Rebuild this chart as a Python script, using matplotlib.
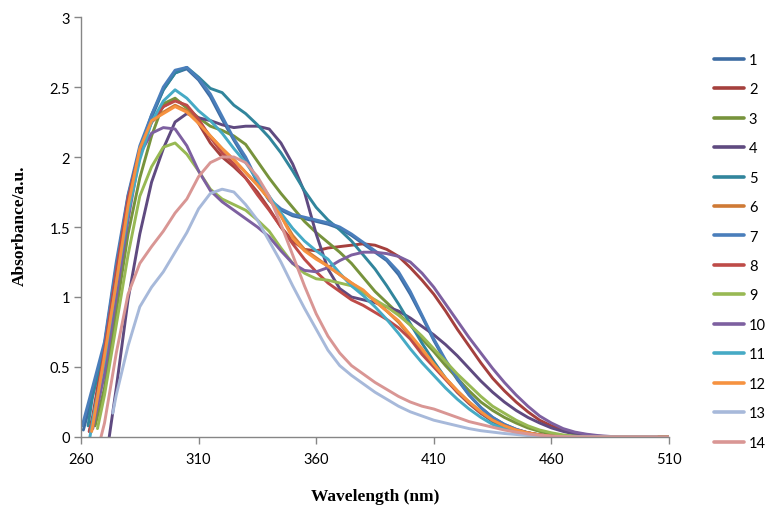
import matplotlib
matplotlib.use("Agg")
import matplotlib.pyplot as plt
import numpy as np

# wavelength grid (nm)
wavelength = list(range(260, 515, 5))

series_names = ["1", "2", "3", "4", "5", "6", "7", "8", "9", "10", "11", "12", "13", "14"]

# onset point of each curve (nm, absorbance)
onset_wl = [261, 263.5, 266, 272, 263, 264.5, 260.5, 263.5, 267, 265, 263.8, 264.5, 273.5, 268.5]
onset_abs = [0.05, 0.04, 0.08, 0.0, 0.08, 0.04, 0.08, 0.04, 0.06, 0.06, 0.0, 0.04, 0.17, 0.0]

# absorbance values on the grid, starting at the first grid point after the onset
s1 = [0.30, 0.66, 1.22, 1.70, 2.06, 2.28, 2.48, 2.60, 2.63, 2.55, 2.43, 2.27, 2.12, 1.98, 1.82, 1.69, 1.62,
      1.58, 1.56, 1.54, 1.52, 1.49, 1.44, 1.38, 1.32, 1.26, 1.16, 1.02, 0.86, 0.69, 0.54, 0.41, 0.30, 0.21,
      0.14, 0.09, 0.055, 0.03, 0.015, 0.006, 0, 0, 0, 0, 0, 0, 0, 0, 0, 0]
s2 = [0.15, 0.65, 1.20, 1.72, 2.05, 2.25, 2.36, 2.41, 2.36, 2.24, 2.10, 2.00, 1.93, 1.85, 1.75, 1.63, 1.50,
      1.40, 1.34, 1.33, 1.35, 1.36, 1.37, 1.38, 1.37, 1.34, 1.29, 1.21, 1.12, 1.02, 0.90, 0.77, 0.65, 0.53,
      0.42, 0.33, 0.25, 0.18, 0.12, 0.08, 0.05, 0.03, 0.015, 0.006, 0, 0, 0, 0, 0, 0]
s3 = [0.35, 0.90, 1.45, 1.85, 2.15, 2.38, 2.42, 2.35, 2.28, 2.22, 2.19, 2.15, 2.09, 1.97, 1.85, 1.74, 1.64,
      1.54, 1.46, 1.39, 1.32, 1.24, 1.14, 1.04, 0.96, 0.88, 0.80, 0.70, 0.61, 0.51, 0.42, 0.33, 0.25, 0.19,
      0.14, 0.10, 0.065, 0.04, 0.02, 0.01, 0.004, 0, 0, 0, 0, 0, 0, 0]
s4 = [0.35, 0.98, 1.45, 1.82, 2.06, 2.25, 2.31, 2.28, 2.26, 2.23, 2.21, 2.22, 2.22, 2.20, 2.10, 1.95, 1.75,
      1.45, 1.20, 1.06, 1.00, 0.98, 0.96, 0.93, 0.90, 0.85, 0.79, 0.73, 0.66, 0.58, 0.49, 0.40, 0.32, 0.25,
      0.19, 0.14, 0.10, 0.065, 0.04, 0.02, 0.01, 0.004, 0, 0, 0, 0, 0]
s5 = [0.30, 0.65, 1.20, 1.70, 2.05, 2.30, 2.48, 2.60, 2.64, 2.57, 2.49, 2.46, 2.37, 2.31, 2.23, 2.14, 2.03,
      1.90, 1.76, 1.64, 1.55, 1.48, 1.40, 1.30, 1.20, 1.08, 0.95, 0.81, 0.67, 0.54, 0.42, 0.32, 0.24, 0.17,
      0.11, 0.07, 0.04, 0.02, 0.01, 0.003, 0, 0, 0, 0, 0, 0, 0, 0, 0, 0]
s6 = [0.10, 0.56, 1.12, 1.66, 2.05, 2.25, 2.32, 2.37, 2.33, 2.25, 2.15, 2.06, 1.98, 1.89, 1.80, 1.70, 1.58,
      1.44, 1.34, 1.28, 1.22, 1.16, 1.10, 1.04, 0.97, 0.90, 0.82, 0.72, 0.62, 0.52, 0.42, 0.33, 0.25, 0.18,
      0.12, 0.08, 0.05, 0.03, 0.015, 0.006, 0, 0, 0, 0, 0, 0, 0, 0, 0, 0]
s7 = [0.36, 0.68, 1.25, 1.73, 2.08, 2.30, 2.50, 2.62, 2.64, 2.56, 2.45, 2.29, 2.13, 2.00, 1.83, 1.70, 1.63,
      1.59, 1.57, 1.55, 1.53, 1.50, 1.45, 1.39, 1.33, 1.27, 1.18, 1.04, 0.87, 0.70, 0.55, 0.42, 0.30, 0.21,
      0.14, 0.09, 0.055, 0.03, 0.015, 0.006, 0, 0, 0, 0, 0, 0, 0, 0, 0, 0]
s8 = [0.12, 0.62, 1.18, 1.70, 2.05, 2.25, 2.36, 2.40, 2.37, 2.27, 2.14, 2.03, 1.95, 1.85, 1.73, 1.62, 1.50,
      1.38, 1.27, 1.18, 1.10, 1.04, 0.98, 0.94, 0.89, 0.84, 0.78, 0.70, 0.59, 0.50, 0.41, 0.32, 0.24, 0.17,
      0.12, 0.08, 0.05, 0.03, 0.015, 0.005, 0, 0, 0, 0, 0, 0, 0, 0, 0, 0]
s9 = [0.30, 0.80, 1.30, 1.72, 1.93, 2.07, 2.10, 2.02, 1.90, 1.77, 1.70, 1.66, 1.62, 1.55, 1.47, 1.35, 1.24,
      1.17, 1.13, 1.12, 1.10, 1.08, 1.03, 0.98, 0.93, 0.87, 0.80, 0.72, 0.63, 0.54, 0.45, 0.37, 0.29, 0.22,
      0.17, 0.12, 0.08, 0.05, 0.03, 0.015, 0.006, 0, 0, 0, 0, 0, 0, 0, 0]
s10 = [0.45, 1.00, 1.55, 2.02, 2.17, 2.21, 2.20, 2.08, 1.90, 1.76, 1.68, 1.62, 1.56, 1.50, 1.43, 1.33, 1.24,
       1.19, 1.18, 1.21, 1.26, 1.30, 1.32, 1.32, 1.31, 1.29, 1.25, 1.17, 1.07, 0.95, 0.83, 0.71, 0.60, 0.49,
       0.39, 0.30, 0.22, 0.15, 0.10, 0.06, 0.035, 0.02, 0.01, 0.004, 0, 0, 0, 0, 0]
s11 = [0.12, 0.55, 1.10, 1.60, 1.98, 2.25, 2.40, 2.48, 2.42, 2.33, 2.26, 2.17, 2.06, 1.96, 1.84, 1.72, 1.60,
       1.49, 1.40, 1.33, 1.27, 1.17, 1.08, 1.01, 0.93, 0.84, 0.74, 0.63, 0.53, 0.44, 0.35, 0.27, 0.20, 0.14,
       0.09, 0.06, 0.035, 0.018, 0.007, 0, 0, 0, 0, 0, 0, 0, 0, 0, 0, 0]
s12 = [0.08, 0.58, 1.10, 1.65, 2.06, 2.26, 2.31, 2.36, 2.32, 2.24, 2.15, 2.06, 1.98, 1.89, 1.80, 1.70, 1.58,
       1.42, 1.33, 1.27, 1.22, 1.16, 1.10, 1.05, 0.97, 0.90, 0.83, 0.73, 0.63, 0.52, 0.42, 0.33, 0.25, 0.18,
       0.12, 0.08, 0.05, 0.03, 0.015, 0.006, 0, 0, 0, 0, 0, 0, 0, 0, 0, 0]
s13 = [0.30, 0.65, 0.93, 1.07, 1.18, 1.32, 1.46, 1.63, 1.74, 1.77, 1.75, 1.66, 1.55, 1.40, 1.25, 1.08, 0.92,
       0.77, 0.62, 0.51, 0.44, 0.38, 0.32, 0.27, 0.22, 0.18, 0.15, 0.12, 0.10, 0.08, 0.06, 0.045, 0.035,
       0.025, 0.018, 0.01, 0.005, 0.002, 0, 0, 0, 0, 0, 0, 0, 0, 0]
s14 = [0.10, 0.60, 1.02, 1.24, 1.36, 1.47, 1.60, 1.70, 1.86, 1.96, 2.00, 2.00, 1.96, 1.86, 1.72, 1.52, 1.30,
       1.08, 0.88, 0.72, 0.60, 0.51, 0.45, 0.39, 0.34, 0.29, 0.25, 0.22, 0.20, 0.17, 0.14, 0.11, 0.09, 0.07,
       0.05, 0.035, 0.022, 0.012, 0.006, 0.002, 0, 0, 0, 0, 0, 0, 0, 0, 0]

series_values = [s1, s2, s3, s4, s5, s6, s7, s8, s9, s10, s11, s12, s13, s14]

colors = ["#3D6CA3", "#A5403D", "#77933C", "#5F4A80", "#31859C", "#CF7A35", "#4A7EBB",
          "#BE4B48", "#98B954", "#7D60A0", "#46AAC5", "#F69240", "#A7B9DA", "#D99694"]

x_ticks = [260, 310, 360, 410, 460, 510]
y_ticks = [0, 0.5, 1, 1.5, 2, 2.5, 3]
y_tick_labels = ["0", "0.5", "1", "1.5", "2", "2.5", "3"]

fig = plt.figure(figsize=(7.75, 5.10), dpi=100)
ax = fig.add_axes([81 / 775, 1 - 438 / 510, (669 - 81) / 775, (438 - 18) / 510])

grid = np.array(wavelength, dtype=float)
handles = []
for name, ow, oa, vals, col in zip(series_names, onset_wl, onset_abs, series_values, colors):
    start = int(np.argmax(grid > ow))
    xs = np.concatenate([[ow], grid[start:start + len(vals)]])
    ys = np.concatenate([[oa], np.array(vals[:len(grid) - start], dtype=float)])
    h, = ax.plot(xs, ys, color=col, lw=2.1, solid_joinstyle="round", solid_capstyle="round", label=name)
    handles.append(h)

ax.set_xlim(260, 510)
ax.set_ylim(0, 3)
ax.set_xticks(x_ticks)
ax.set_yticks(y_ticks)
ax.set_yticklabels(y_tick_labels)

for side in ["top", "right"]:
    ax.spines[side].set_visible(False)
for side in ["left", "bottom"]:
    ax.spines[side].set_color("#868686")
    ax.spines[side].set_linewidth(1.0)
ax.tick_params(axis="both", direction="out", length=5, width=1.0, color="#868686",
               labelsize=10.5, labelcolor="#000000", pad=3)
ax.tick_params(axis="x", pad=6)
for lbl in ax.get_xticklabels() + ax.get_yticklabels():
    lbl.set_family(["Lato", "DejaVu Sans"])

fig.text(375 / 775, 1 - 497 / 510, "Wavelength (nm)", ha="center", va="center",
         fontsize=12.5, fontweight="bold", family=["Liberation Serif", "DejaVu Serif"])
fig.text(20 / 775, 1 - 226 / 510, "Absorbance/a.u.", ha="center", va="center", rotation=90,
         fontsize=12.5, fontweight="bold", family=["Liberation Serif", "DejaVu Serif"])

leg = fig.legend(handles=handles, loc="upper left", bbox_to_anchor=(708 / 775, 1 - 48 / 510),
                 frameon=False, handlelength=2.1, handletextpad=0.3,
                 labelspacing=1.06, borderaxespad=0, prop={"family": ["Lato", "DejaVu Sans"], "size": 10.5})
for line in leg.get_lines():
    line.set_linewidth(2.6)

fig.savefig("out.png", dpi=100, facecolor="white")
